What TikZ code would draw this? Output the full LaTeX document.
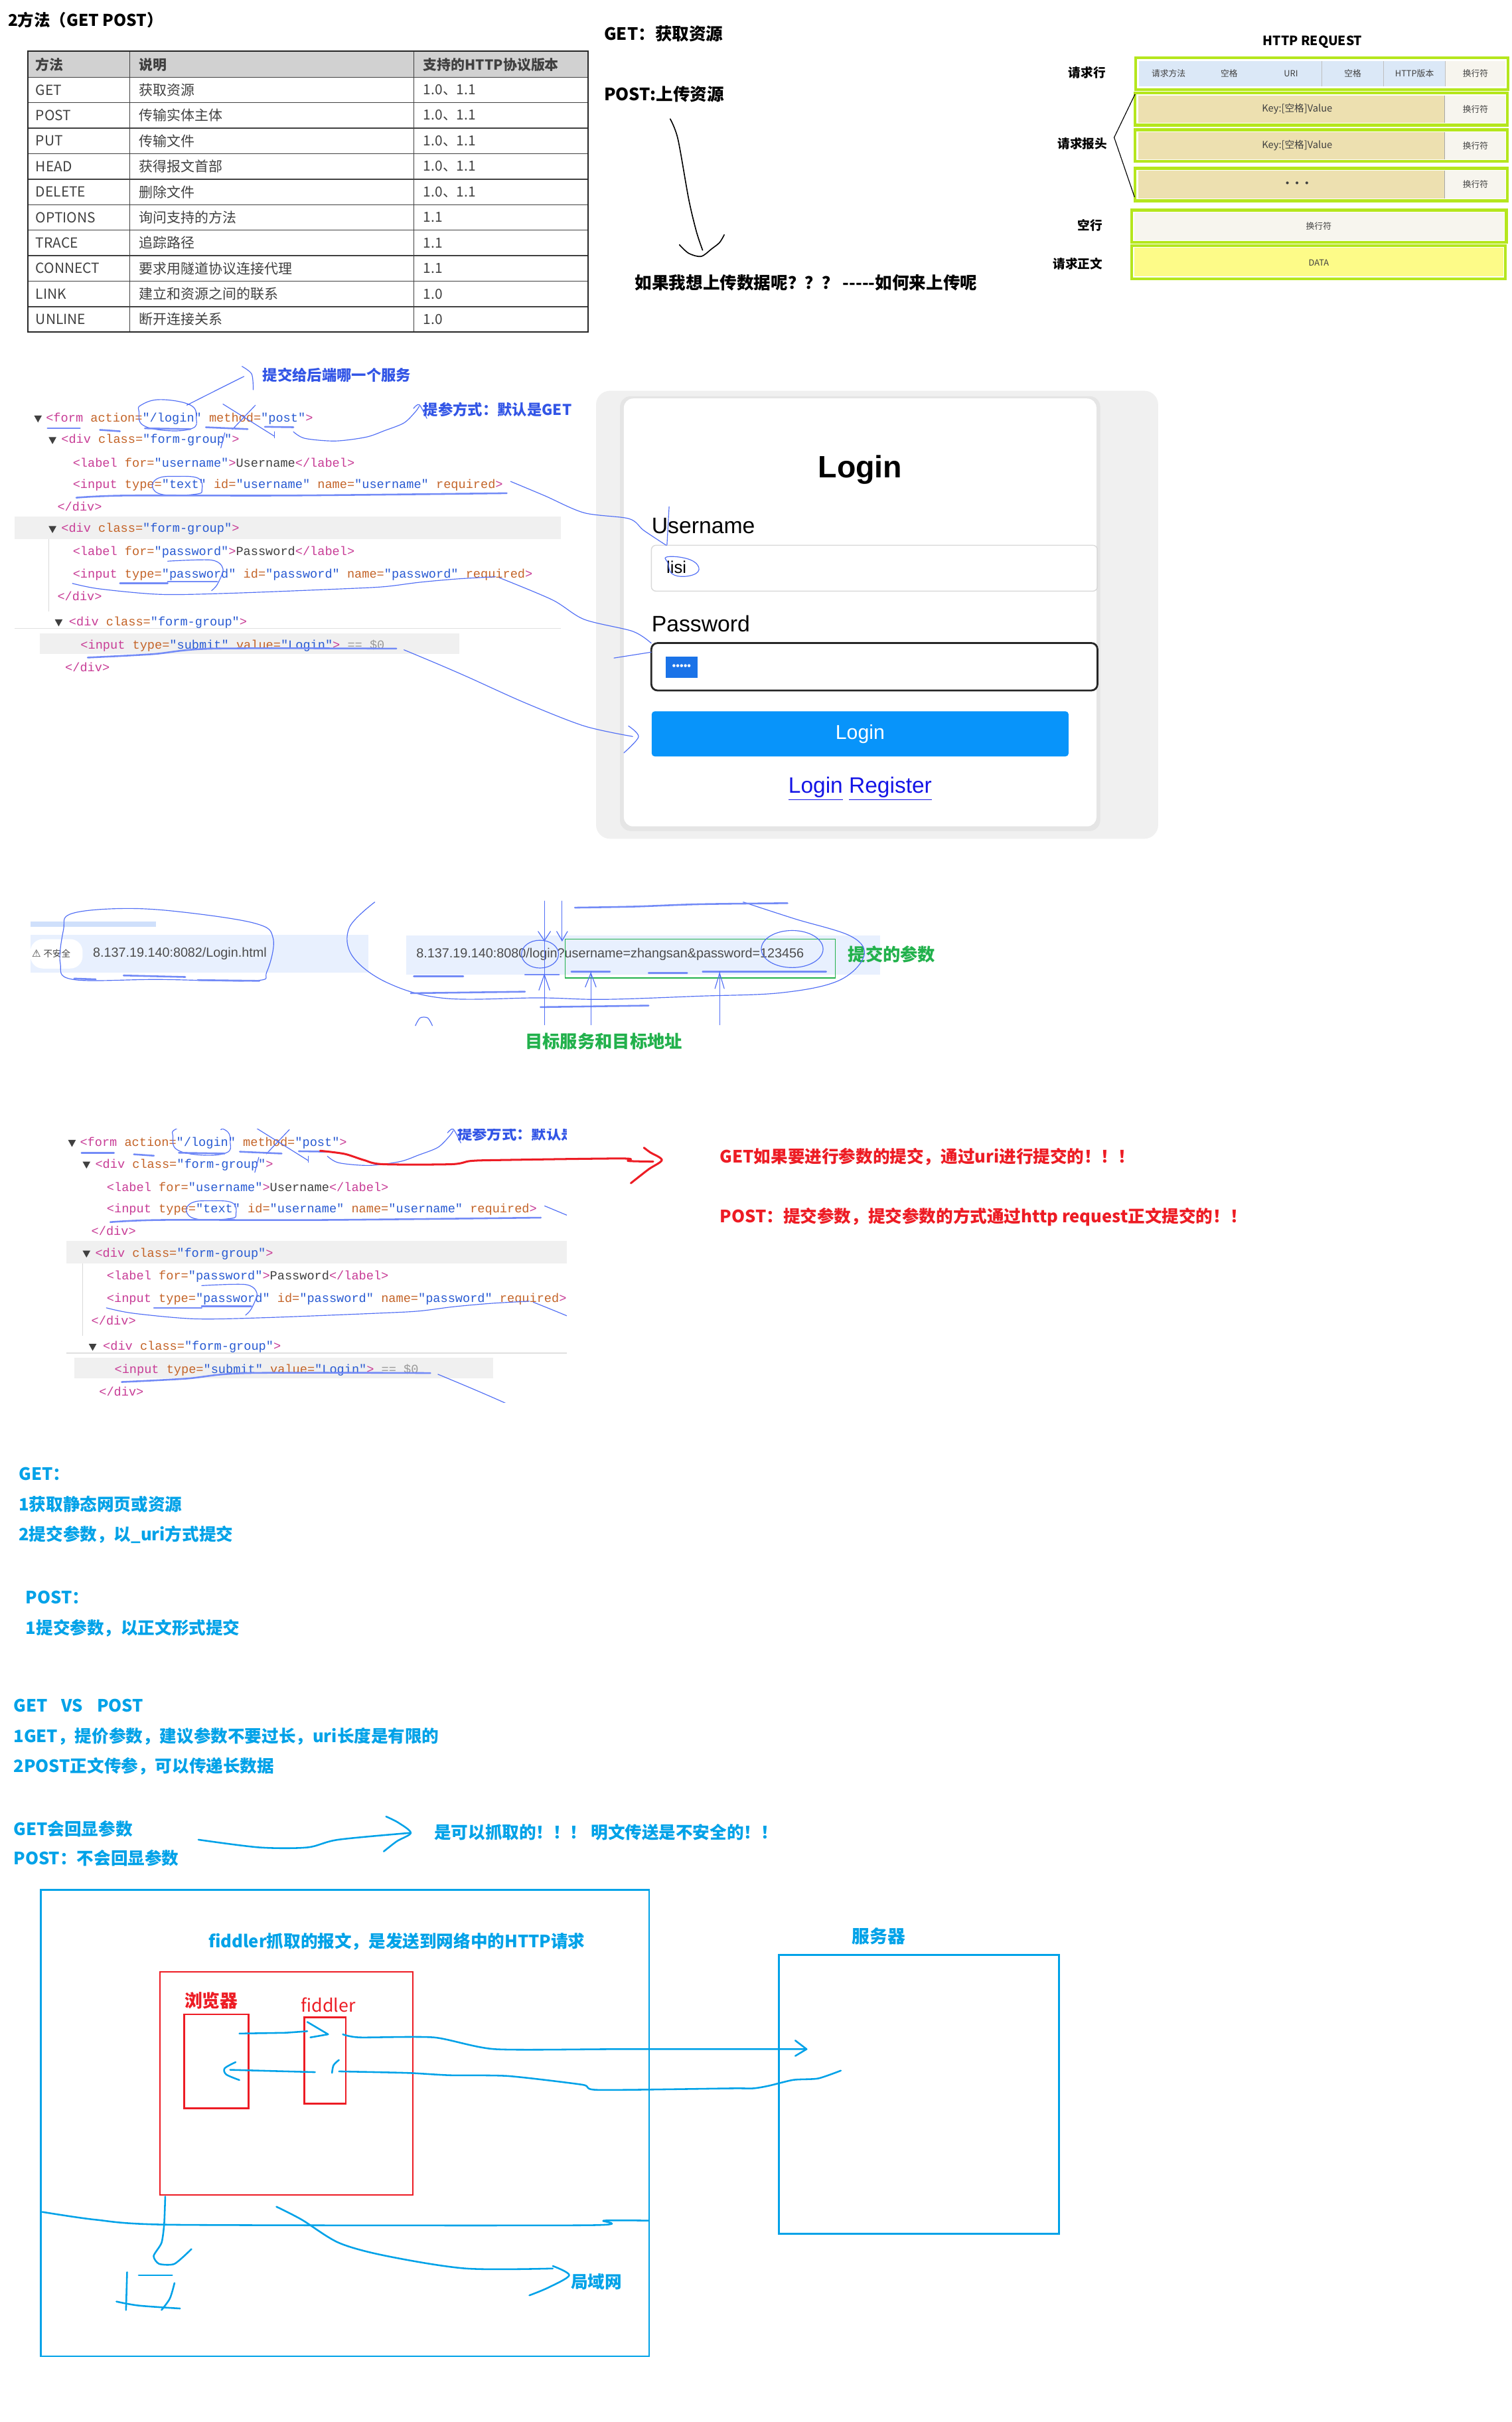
\documentclass[tikz,border=0pt]{standalone}
\usepackage{fontspec}
\setmainfont{Noto Sans CJK SC}
\newfontfamily\codefont{Liberation Mono}
\newfontfamily\arialf{Liberation Sans}
\newfontfamily\dejavuf{DejaVu Sans}
\definecolor{limeg}{RGB}{181,230,29}
\definecolor{cellblue}{RGB}{219,232,247}
\definecolor{celltan}{RGB}{237,224,176}
\definecolor{cellcream}{RGB}{247,245,238}
\definecolor{cellyellow}{RGB}{253,251,136}
\definecolor{skyblue}{RGB}{0,162,232}
\definecolor{annoblue}{RGB}{80,110,245}
\definecolor{alabblue}{RGB}{50,85,230}
\definecolor{redc}{RGB}{237,28,36}
\definecolor{greenc}{RGB}{34,177,76}
\definecolor{btnblue}{RGB}{8,148,250}
\definecolor{tagc}{RGB}{200,60,150}
\definecolor{attrc}{RGB}{196,100,40}
\definecolor{valc}{RGB}{40,90,210}
\definecolor{urlbg}{RGB}{232,240,254}
\definecolor{urltop}{RGB}{207,224,251}
\definecolor{selblue}{RGB}{26,115,232}
\definecolor{linkblue}{RGB}{20,20,230}
\newcommand\FS[1]{\fontsize{#1}{#1}\selectfont}
\newcommand\cTg[1]{\textcolor{tagc}{#1}}
\newcommand\cAt[1]{\textcolor{attrc}{#1}}
\newcommand\cVl[1]{\textcolor{valc}{#1}}
\newcommand\cTx[1]{\textcolor{black!75}{#1}}
\newcommand\cGr[1]{\textcolor{black!40}{#1}}
\newcommand\Tri[2]{\fill[black!75] (#1,#2) ++(-2.5,-2) -- ++(5,0) -- ++(-2.5,4.5) -- cycle;}
\newcommand\DivLine{\cTg{<div} \cAt{class=}\cVl{"form-group"}\cTg{>}}
\newcommand\CodeBlock[1]{%
\fill[black!6] (9.4,334.5) rectangle (363,349);
\fill[black!6] (26,410) rectangle (297.5,423.5);
\draw[black!12, line width=0.5pt] (9.4,407) -- (363,407);
\draw[black!15, line width=0.5pt] (31.6,349) -- (31.6,396);
\Tri{24.6}{271}\Tri{34}{285}\Tri{34}{342.6}\Tri{38}{403}
\node[codet] (#1-1) at (29.6,271) {\cTg{<form} \cAt{action=}\cVl{"/login"} \cAt{method=}\cVl{"post"}\cTg{>}};
\node[codet] (#1-2) at (39.5,285) {\DivLine};
\node[codet] (#1-3) at (47,299.6) {\cTg{<label} \cAt{for=}\cVl{"username"}\cTg{>}\cTx{Username}\cTg{</label>}};
\node[codet] (#1-4) at (47,314) {\cTg{<input} \cAt{type=}\cVl{"text"} \cAt{id=}\cVl{"username"} \cAt{name=}\cVl{"username"} \cAt{required}\cTg{>}};
\node[codet] (#1-5) at (37,328) {\cTg{</div>}};
\node[codet] (#1-6) at (39.5,342.6) {\DivLine};
\node[codet] (#1-7) at (47,357.6) {\cTg{<label} \cAt{for=}\cVl{"password"}\cTg{>}\cTx{Password}\cTg{</label>}};
\node[codet] (#1-8) at (47,372) {\cTg{<input} \cAt{type=}\cVl{"password"} \cAt{id=}\cVl{"password"} \cAt{name=}\cVl{"password"} \cAt{required}\cTg{>}};
\node[codet] (#1-9) at (37,386) {\cTg{</div>}};
\node[codet] (#1-10) at (44.5,403) {\DivLine};
\node[codet] (#1-11) at (52,418) {\cTg{<input} \cAt{type=}\cVl{"submit"} \cAt{value=}\cVl{"Login"}\cTg{>} \cGr{== \$0}};
\node[codet] (#1-12) at (42,432) {\cTg{</div>}};
\draw[annot] plot[smooth cycle, tension=0.7] coordinates {(91.3,262.3)(103.7,258.7)(123.4,262.3)(127.1,270.9)(124.6,277.3)(108.6,278.8)(92.5,275.2)(90,266.6)};
\draw[annot] plot[smooth] coordinates {(121,262.3)(138,253.7)(158,243.7)};
\draw[annot] plot[smooth] coordinates {(156.7,237.2)(163,242.2)(164,252.3)};
\draw[annot] (144.4,261.6) -- (177.7,282.4);
\draw[annot] (165.4,262.3) -- (150.5,278);
\draw[annot] (177.7,279.5) -- (177.7,283.5);
\draw[annot] plot[smooth] coordinates {(190,279.5)(197.4,283.8)(217,285.5)(237,283)(249,278.8)(261.6,273.8)(269,266.6)(271.5,263)};
\draw[annot] plot[smooth] coordinates {(267.8,264.4)(271.5,262)(276.4,270.9)};
\draw[annothick] (30.8,277.3) -- (51.8,277.3);
\draw[annothick] (64.7,278.3) -- (77.7,279.2);
\draw[annothick] (93.8,277.3) -- (123.4,277.8);
\draw[annothick] (133.3,276.6) -- (160.4,277.8);
\draw[annothick] (171.5,276.3) -- (190,276.6);
\draw[annot] (145.6,280.2) -- (143,290);
\draw[annot] plot[smooth cycle, tension=0.7] coordinates {(102.4,309.6)(113.5,308.4)(128.3,309.6)(130.8,316.8)(127,319.9)(106,320.3)(98.7,315.3)};
\draw[annothick] plot[smooth] coordinates {(49.4,322.2)(82.7,320.8)(187.6,320.8)(328.2,319.3)};
\draw[annot] plot[smooth] coordinates {(330.7,311.7)(352.9,321)(378.3,332)(407.3,335.8)(416.9,343.4)(431.4,353)};
\draw[annot] plot[smooth] coordinates {(108.6,363.3)(137,362.6)(144.4,368.3)(140.7,378.4)(137,382.4)};
\draw[annot] plot[smooth] coordinates {(46.9,377.7)(64.2,381.2)(103.7,384.8)(148,384.1)(222,381.2)(249,379.8)(271.5,377)(296,374.8)(320.8,373.4)};
\draw[annothick] (77.7,377.7) -- (108.6,377.7);
\draw[annothick] (108.6,376.6) -- (140.7,376.6);
\draw[annot] plot[smooth] coordinates {(323.3,374)(357.8,388.4)(378.3,401)(409.7,408.7)(421.7,416.4)};
\draw[annot] (397.6,426) -- (421.7,422.2);
\draw[annothick] plot[smooth] coordinates {(56.8,425.7)(98.7,423.5)(138.2,419.9)(256.7,419.9)};
\draw[annot] plot[smooth] coordinates {(261.6,420.7)(283.8,430)(303.6,438.6)(340,455)(378.3,470)(409.7,476.8)};
\draw[annot] plot[smooth] coordinates {(407,470)(413.5,477)(404,487.4)};
\node[alab] (#1-svc) at (170,243) {提交给后端哪一个服务};
\node[alab] (#1-way) at (274,265) {提参方式：默认是GET};
}
\begin{document}
\begin{tikzpicture}[x=1pt,y=-1pt,
  every node/.style={inner sep=0pt},
  ttl/.style={anchor=west, font=\bfseries\FS{10.5}},
  blk/.style={anchor=west, font=\bfseries\FS{11}},
  tcell/.style={anchor=west, font=\FS{9}, text=black!75},
  cellt/.style={font=\FS{5.5}, text=black!75},
  reqlab/.style={font=\bfseries\FS{8}},
  codet/.style={anchor=west, font=\codefont\FS{8}},
  annot/.style={draw=annoblue, line width=0.5pt, line cap=round},
  annothick/.style={draw=annoblue!80, line width=1.1pt, line cap=round},
  alab/.style={anchor=west, font=\bfseries\FS{9.6}, text=alabblue},
  grn/.style={font=\bfseries\FS{11.3}, text=greenc},
  redt/.style={anchor=west, font=\bfseries\FS{11}, text=redc},
  skyt/.style={anchor=west, font=\bfseries\FS{11}, text=skyblue},
  skyl/.style={draw=skyblue, line width=1.1pt, line cap=round, line join=round},
  urlt/.style={anchor=west, font=\arialf\FS{8.5}, text=black!70}]
\useasboundingbox (0,0) rectangle (979,1568);
\fill[white] (0,0) rectangle (979,1568);

% ---------- section 1: table ----------
\node[ttl] (title) at (5,13) {2方法（GET POST）};
\fill[black!18] (18,33) rectangle (381,50);
\foreach \k in {1,...,9} {\draw[black!75, line width=0.6pt] (18,{50+16.5*\k}) -- (381,{50+16.5*\k});}
\draw[black!75, line width=0.7pt] (18,50) -- (381,50);
\draw[black!75, line width=0.6pt] (84,33) -- (84,215) (268,33) -- (268,215);
\draw[black!85, line width=0.9pt] (18,33) rectangle (381,215);
\node[tcell, font=\bfseries\FS{9}] (th1) at (23,42) {方法};
\node[tcell, font=\bfseries\FS{9}] (th2) at (90,42) {说明};
\node[tcell, font=\bfseries\FS{9}] (th3) at (274,42) {支持的HTTP协议版本};
\foreach \m/\d/\v [count=\i] in {GET/获取资源/{1.0、1.1},POST/传输实体主体/{1.0、1.1},PUT/传输文件/{1.0、1.1},HEAD/获得报文首部/{1.0、1.1},DELETE/删除文件/{1.0、1.1},OPTIONS/询问支持的方法/1.1,TRACE/追踪路径/1.1,CONNECT/要求用隧道协议连接代理/1.1,LINK/建立和资源之间的联系/1.0,UNLINE/断开连接关系/1.0} {
  \node[tcell] (tm\i) at (23,{41.75+16.5*\i}) {\m};
  \node[tcell] (td\i) at (90,{41.75+16.5*\i}) {\d};
  \node[tcell] (tv\i) at (274,{41.75+16.5*\i}) {\v};
}

% ---------- section 2 ----------
\node[blk] (getres) at (391,22) {GET：获取资源};
\node[blk] (postres) at (391,61) {POST:上传资源};
\node[blk] (howup) at (411,183) {如果我想上传数据呢？？？ {-}{-}{-}{-}{-}如何来上传呢};
\draw[black, line width=0.7pt, line cap=round] plot[smooth] coordinates {(434,77)(439,90)(446,129)(451,150)(455,162)};
\draw[black, line width=0.7pt, line cap=round, line join=round] plot[smooth] coordinates {(440,158.5)(446,164)(454,166)(461,161)(466,157)(469,152)};

% ---------- section 3: HTTP REQUEST ----------
\node[font=\bfseries\FS{8.3}] (hreq) at (850,27) {HTTP REQUEST};
\foreach \xa/\xb/\t [count=\i] in {737.5/776/请求方法,776/816/空格,816/856/URI,856/896/空格,896/936/HTTP版本} {
  \fill[cellblue] (\xa,39.5) rectangle (\xb,56);
  \draw[black!25, line width=0.4pt] (\xb,39.5) -- (\xb,56);
  \node[cellt] (rl\i) at ({(\xa+\xb)/2},47.75) {\t};
}
\fill[cellcream] (936,39.5) rectangle (975,56);
\node[cellt] (rl6) at (955.5,47.75) {换行符};
\draw[limeg, line width=1.8pt] (735.5,37.4) rectangle (976.5,58);
\foreach \ya/\yb/\t [count=\i] in {60.2/81/{Key:[空格]Value},84/104.6/{Key:[空格]Value},109/130/{\textbf{···}}} {
  \fill[celltan] (737,\ya+1.5) rectangle (935.6,\yb-1.5);
  \fill[cellcream] (935.6,\ya+1.5) rectangle (975,\yb-1.5);
  \draw[black!35, line width=0.4pt] (935.6,\ya+1.5) -- (935.6,\yb-1.5);
  \node[cellt, font=\FS{6.3}] (hk\i) at (840,{(\ya+\yb)/2}) {\t};
  \node[cellt] (hn\i) at (955.5,{(\ya+\yb)/2}) {换行符};
  \draw[limeg, line width=1.8pt] (735,\ya) rectangle (976,\yb);
}
\fill[cellcream] (734.5,137.5) rectangle (974,155.5);
\node[cellt] (blank) at (854,146.5) {换行符};
\draw[limeg, line width=1.8pt] (733,136) rectangle (975.5,157);
\fill[cellyellow] (734.5,160.5) rectangle (973.5,179);
\node[cellt] (data) at (854,170) {DATA};
\draw[limeg, line width=1.8pt] (733,159) rectangle (975,180.6);
\draw[black, line width=0.5pt] (735,61) -- (721.5,89) -- (734.7,127.6);
\node[reqlab] (lab1) at (704,47) {请求行};
\node[reqlab] (lab2) at (701,93) {请求报头};
\node[reqlab] (lab3) at (706,146) {空行};
\node[reqlab] (lab4) at (698,170.7) {请求正文};

% ---------- section 4: code + login ----------
\fill[black!6, rounded corners=9pt] (386,253) rectangle (750,543);
\fill[black!10, rounded corners=7pt] (401.5,256.5) rectangle (712.5,538);
\fill[white, rounded corners=6pt] (404,258) rectangle (710,535);
\node[font=\arialf\bfseries\FS{20}] (ltitle) at (557,304) {Login};
\node[anchor=west, font=\arialf\FS{14.5}] (luser) at (421.8,340.5) {Username};
\draw[black!15, line width=0.6pt, rounded corners=3pt] (421.8,353) rectangle (710.7,382.7);
\node[anchor=west, font=\arialf\FS{11}] (lisi) at (431.4,367.4) {lisi};
\node[anchor=west, font=\arialf\FS{14.5}] (lpass) at (421.8,403.7) {Password};
\draw[black!85, line width=1.2pt, rounded corners=4pt] (421.8,416.3) rectangle (710.7,447);
\node[fill=selblue, minimum width=21pt, minimum height=14pt, font=\arialf\FS{7}, text=white] (pdots) at (441.4,432) {•••••};
\node[fill=btnblue, rounded corners=2pt, minimum width=270pt, minimum height=29.2pt, font=\arialf\FS{13}, text=white] (lbtn) at (557,475.1) {Login};
\node[font=\arialf\FS{14.4}, text=linkblue] (llinks) at (557,510.7) {\underline{Login} \underline{Register}};
\CodeBlock{a}
\draw[annot] (433.3,328) -- (431.9,353);
\draw[annot] plot[smooth cycle, tension=0.7] coordinates {(431.4,360.7)(442,361)(450.7,364.6)(451.9,370.3)(443.4,373.2)(435,371.3)(432.6,364.6)};

% ---------- section 5: URL bars ----------
\fill[urltop] (19.7,596.5) rectangle (100.8,600);
\fill[urlbg] (19.7,605) rectangle (238.6,629.5);
\fill[white, rounded corners=8pt] (19.7,608) rectangle (53.5,627);
\node[anchor=west, text=black!75] (warn) at (20.5,617.5) {{\dejavuf\FS{6.5}⚠}\,{\FS{5.8}不安全}};
\node[urlt] (url1) at (60,617.5) {8.137.19.140:8082/Login.html};
\fill[urlbg] (263,605.5) rectangle (570,631);
\node[urlt] (url2) at (269.5,618) {8.137.19.140:8080/login?username=zhangsan\&password=123456};
\draw[greenc, line width=0.7pt] (366,608) rectangle (541,633);
\node[grn, anchor=west] (params) at (549,618) {提交的参数};
\node[grn] (target) at (391,674) {目标服务和目标地址};
\draw[annot] plot[smooth cycle, tension=0.6] coordinates {(45.2,591.9)(74,588.3)(111,589.7)(164.5,597.6)(176.9,607.6)(172.8,629.1)(164.5,634.9)(102.8,634.1)(47.3,634.1)(39,623.4)(41.1,601.9)};
\draw[annothick] (48,633.5) -- (62,634) (80,631.5) -- (120,632.5) (128,634.5) -- (168,635);
\draw[annot] plot[smooth, tension=0.6] coordinates {(242.7,584)(226.2,600.5)(228.3,619.1)(251,636.3)(288,646.3)(349.7,646)(390.8,647)(452.5,644.9)(506,642.7)(543,634.9)(559.4,619.1)(551.2,606.2)(514.2,594.7)(481.3,584)};
\draw[annothick] plot[smooth] coordinates {(372.3,587.6)(411.4,586.9)(452.5,585.4)(510,584.7)};
\draw[annothick] (268,632) -- (300,632) (340,631) -- (362,631) (370,629) -- (395,629) (420,630) -- (445,630) (455,629) -- (535,629);
\draw[annothick] (266,643) -- (340,642) (350,652) -- (420,651);
\draw[annot] (352.5,583.3) -- (352.5,663.5);
\draw[annot] (364,583.3) -- (364,609);
\draw[annot] (382.6,629) -- (382.6,663.5);
\draw[annot] (466,629) -- (466,663.5);
\draw[annot] (348.5,603) -- (352.5,609) -- (356.5,603);
\draw[annot] (349,641) -- (352.5,631) -- (356,641);
\draw[annot] (360.5,603) -- (364,609) -- (367.5,603);
\draw[annot] (379,639) -- (382.6,630) -- (386,639);
\draw[annot] (463,640) -- (466,630) -- (469,640);
\draw[annot] (349.7,617.7) ellipse [x radius=12pt, y radius=9pt];
\draw[annot] (513,614.4) ellipse [x radius=20pt, y radius=12pt];
\draw[annot] plot[smooth] coordinates {(269,664)(272,659)(277,659)(280,664)};

% ---------- section 6: code block 2 ----------
\begin{scope}
\clip (43,731) rectangle (367,908);
\begin{scope}[shift={(22,469)}]
\CodeBlock{b}
\end{scope}
\end{scope}
\draw[redc, line width=1.3pt, line cap=round, line join=round] plot[smooth, tension=0.5] coordinates {(207.3,745)(223,747)(235.6,751)(248,753.7)(292.4,753.7)(304.8,751.6)(324.4,751)(403,750)(407,751.6)(423,752)};
\draw[redc, line width=1.3pt, line cap=round, line join=round] plot[smooth] coordinates {(417,743)(421,746)(428.6,751)(420,757)(408.5,766)};
\node[redt] (redget) at (466,749) {GET如果要进行参数的提交，通过uri进行提交的！！！};
\node[redt] (redpost) at (466,788) {POST：提交参数，提交参数的方式通过http request正文提交的！！};

% ---------- section 7: blue notes ----------
\node[skyt] (g0) at (12,954) {GET：};
\node[skyt] (g1) at (12,974) {1获取静态网页或资源};
\node[skyt] (g2) at (12,993.6) {2提交参数，以\_uri方式提交};
\node[skyt] (p0) at (16.5,1034) {POST：};
\node[skyt] (p1) at (16.5,1054) {1提交参数，以正文形式提交};
\node[skyt] (vs) at (8.6,1104) {GET\hspace{9pt}VS\hspace{9pt}POST};
\node[skyt] (vs1) at (8.6,1124) {1GET，提价参数，建议参数不要过长，uri长度是有限的};
\node[skyt] (vs2) at (8.6,1143.6) {2POST正文传参，可以传递长数据};
\node[skyt] (echo1) at (8.6,1184) {GET会回显参数};
\node[skyt] (echo2) at (8.6,1203) {POST：不会回显参数};
\node[skyt] (unsafe) at (281,1186) {是可以抓取的！！！ 明文传送是不安全的！！};
\draw[skyl] plot[smooth, tension=0.5] coordinates {(128.5,1191)(168,1196)(199,1196)(219,1191)(265.7,1186.6)};
\draw[skyl] plot[smooth] coordinates {(250,1176)(258,1180)(266,1186.6)(257,1192)(248.5,1198.6)};

% ---------- section 8: fiddler diagram ----------
\node[draw=skyblue, line width=1.2pt, minimum width=394pt, minimum height=301.8pt] (lan) at (223.4,1374.5) {};
\node[skyt, anchor=center] (fidnote) at (257,1257) {fiddler抓取的报文，是发送到网络中的HTTP请求};
\node[draw=redc, line width=1.1pt, minimum width=163.9pt, minimum height=144.5pt] (pc) at (185.45,1348.75) {};
\node[draw=redc, line width=1.1pt, minimum width=41.7pt, minimum height=61pt] (browser) at (140.15,1334.5) {};
\node[draw=redc, line width=1.1pt, minimum width=27pt, minimum height=56pt] (fiddler) at (210.5,1334) {};
\node[redt, font=\bfseries\FS{11.5}] (browserlab) at (119.3,1295) {浏览器};
\node[redt, font=\FS{11.5}] (fiddlerlab) at (194.7,1298) {fiddler};
\node[draw=skyblue, line width=1.2pt, minimum width=181.5pt, minimum height=180.5pt] (server) at (595.05,1355.75) {};
\node[skyt, anchor=center, font=\bfseries\FS{11.5}] (serverlab) at (569,1253.7) {服务器};
\node[skyt] (lanlab) at (369.6,1477) {局域网};
\coordinate (bOut) at (155,1316.5);
\coordinate (fIn) at (212.5,1317);
\draw[skyl] (bOut) -- (185,1316) -- (199,1315);
\draw[skyl] (199,1309) -- (fIn) -- (201,1319);
\coordinate (fOut) at (222,1317);
\coordinate (sIn) at (522.3,1326.6);
\draw[skyl] plot[smooth, tension=0.4] coordinates {(fOut)(233,1319)(281,1319)(320.6,1326.6)(400,1326.6)(sIn)};
\draw[skyl] (515,1321) -- (sIn) -- (515,1331);
\draw[skyl] plot[smooth, tension=0.4] coordinates {(544.5,1340.5)(529.7,1345.6)(513.8,1346.5)(497.5,1350.4)(487.6,1352)(473,1352)(387.5,1353)(377,1349.6)(329,1344)(291.4,1343.5)(264,1342)(219.5,1341)};
\draw[skyl] (204,1341.5) -- (149,1340);
\draw[skyl] plot[smooth] coordinates {(152.6,1335)(145.5,1339)(146.5,1343)(155,1346.6)};
\draw[skyl] plot[smooth] coordinates {(219.5,1333.6)(216,1337)(215,1342)};
\draw[skyl] plot[smooth, tension=0.4] coordinates {(27.4,1432)(61.7,1437)(113,1440.3)(380.6,1440.6)(391,1437.6)(420,1437.6)};
\draw[skyl] plot[smooth, tension=0.4] coordinates {(107,1422)(106.3,1440)(104.6,1452)(99.5,1460.5)(103,1465.6)(113,1465.6)(124,1456)};
\draw[skyl] (82.3,1471) -- (81.6,1495.5);
\draw[skyl] (89.8,1473) -- (111.5,1473);
\draw[skyl] plot[smooth] coordinates {(113,1478)(110,1488)(104.6,1495.5)};
\draw[skyl] plot[smooth] coordinates {(75.4,1490)(89.8,1492.6)(116.6,1494.5)};
\draw[skyl] plot[smooth, tension=0.5] coordinates {(179,1428.6)(195.4,1437)(219.5,1452)(250.3,1460.5)(301.7,1468.6)(358,1468.6)};
\draw[skyl] plot[smooth] coordinates {(358,1467)(368.6,1473)(355,1481)(342.8,1486)};
\end{tikzpicture}
\end{document}
